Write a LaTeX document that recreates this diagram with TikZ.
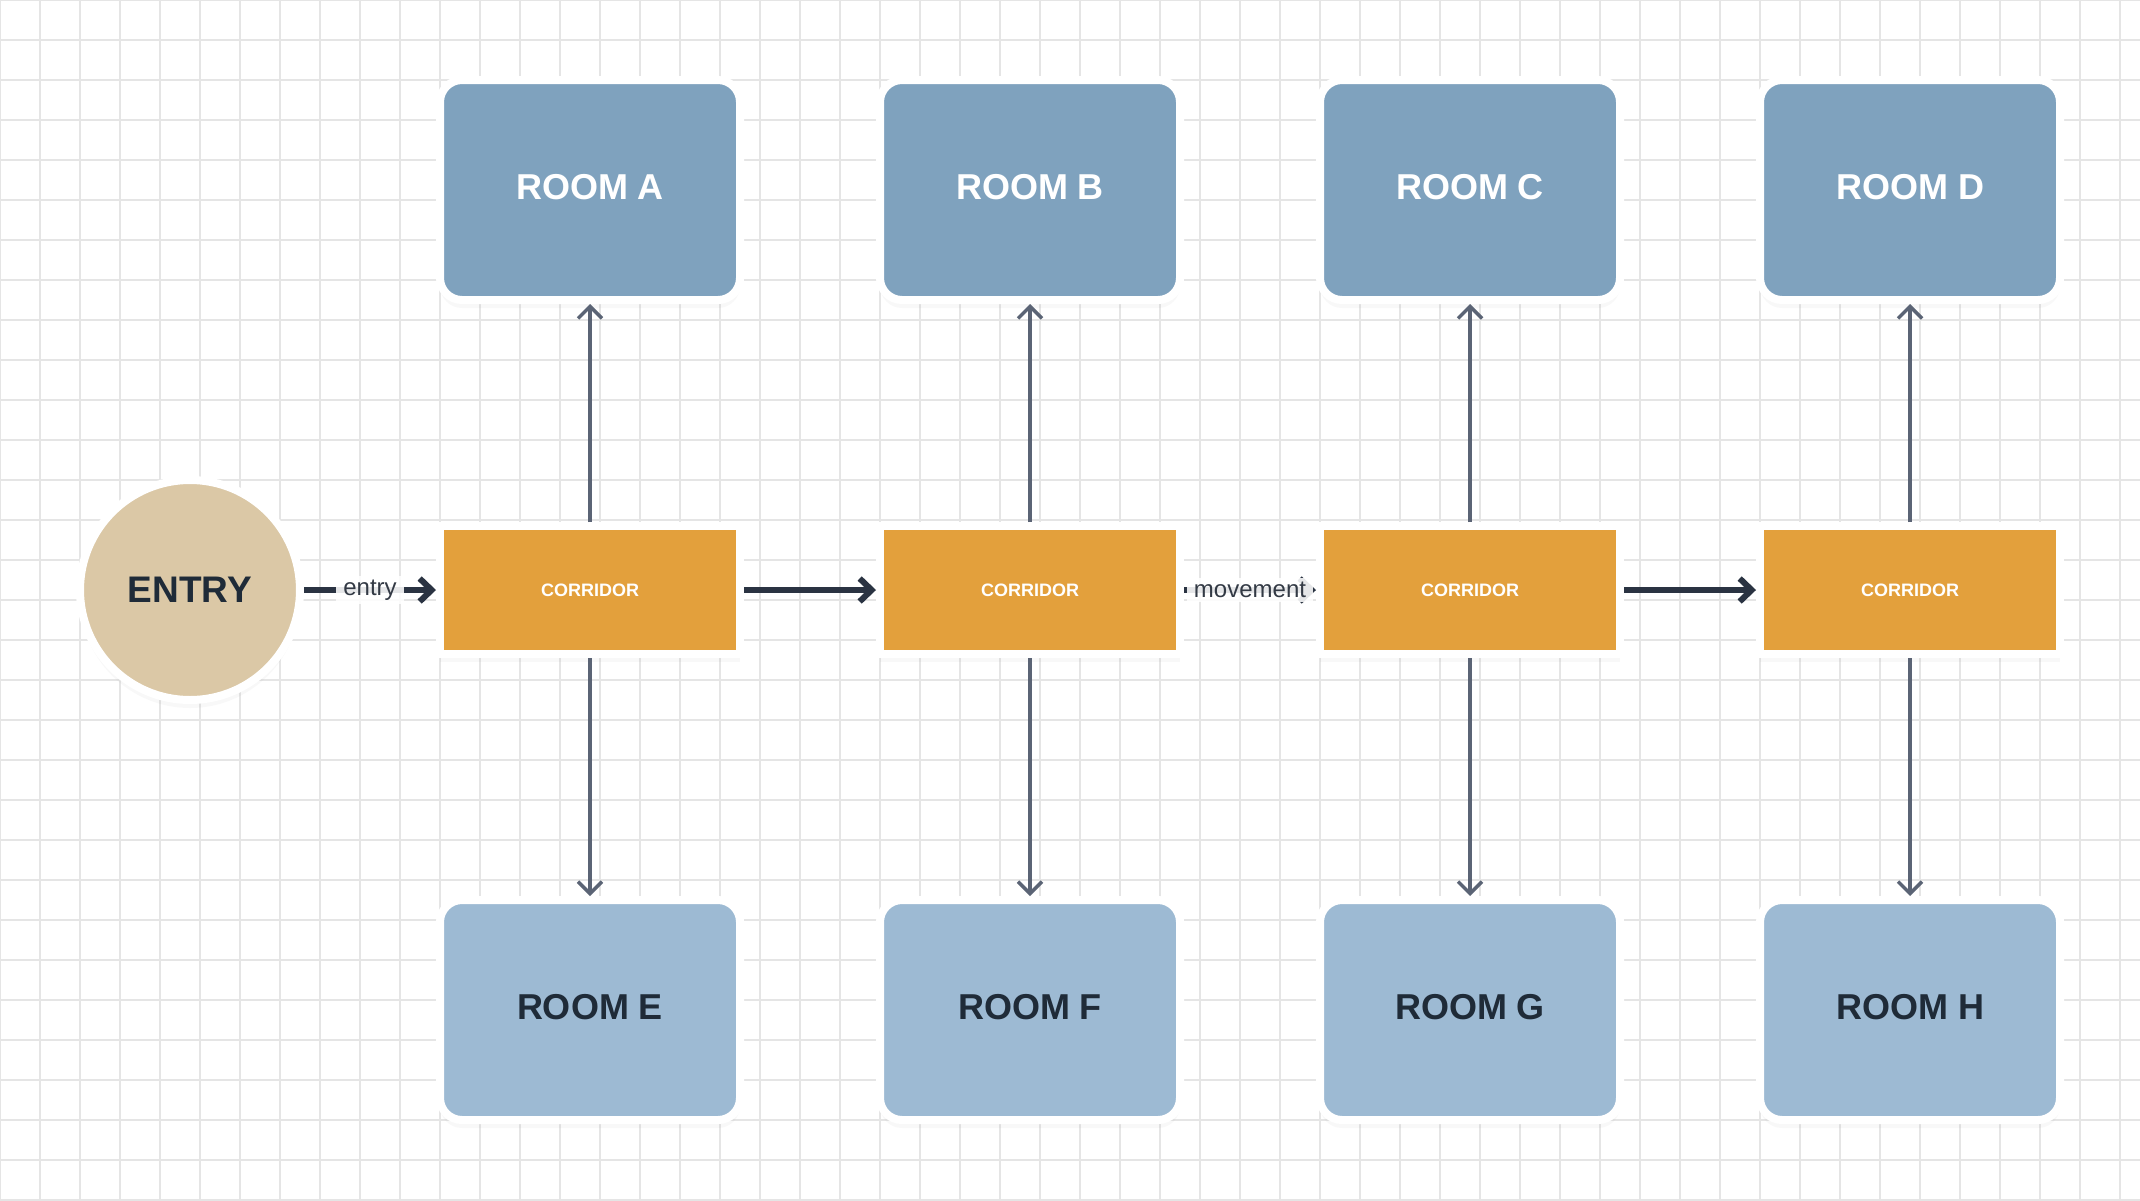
\documentclass[tikz,border=0pt]{standalone}
\usepackage{fontspec}
\setmainfont{Liberation Sans}
\usetikzlibrary{arrows.meta, shadows}

\definecolor{roomtop}{HTML}{7FA2BE}
\definecolor{roombot}{HTML}{9DBAD3}
\definecolor{corrfill}{HTML}{E3A03C}
\definecolor{entryfill}{HTML}{DBC8A6}
\definecolor{ink}{HTML}{1F2B38}
\definecolor{flow}{HTML}{2A3342}
\definecolor{link}{HTML}{5B6475}
\definecolor{gridc}{HTML}{E5E5E5}
\definecolor{lblc}{HTML}{333A45}

\begin{document}
\begin{tikzpicture}[x=1pt, y=-1pt,
  box/.style={draw=white, line width=8pt, minimum width=300pt, inner sep=0pt,
    drop shadow={shadow xshift=0pt, shadow yshift=-8pt, opacity=0.05}},
  roomup/.style={box, rounded corners=22pt, minimum height=220pt, fill=roomtop,
    text=white, text depth=6pt, font=\fontsize{36}{40}\selectfont\bfseries},
  roomdown/.style={roomup, fill=roombot, text=ink},
  corridor/.style={box, minimum height=128pt, fill=corrfill, text=white,
    font=\fontsize{18}{20}\selectfont\bfseries},
  entrynode/.style={circle, draw=white, line width=8pt, minimum size=220pt,
    inner sep=0pt, fill=entryfill, text=ink, font=\fontsize{37}{40}\selectfont\bfseries,
    drop shadow={shadow xshift=0pt, shadow yshift=-8pt, opacity=0.05}},
  flowarrow/.style={draw=flow, line width=6pt, -{Straight Barb[length=12pt, width=23pt]}},
  linkarrow/.style={draw=link, line width=3.5pt, -{Straight Barb[length=12pt, width=24pt]}},
  lbl/.style={fill=white, fill opacity=0.88, text opacity=1, text=lblc, inner xsep=7pt,
    inner ysep=4pt, font=\fontsize{24}{28}\selectfont}]

\useasboundingbox (0,0) rectangle (2140,1200);
\fill[white] (0,0) rectangle (2140,1200);
\draw[gridc, line width=1.5pt] (0,0) grid[step=40pt] (2140,1200);

\node[entrynode] (E) at (190,590) {ENTRY};

\node[roomup] (RA) at (590,190) {ROOM A};
\node[roomup] (RB) at (1030,190) {ROOM B};
\node[roomup] (RC) at (1470,190) {ROOM C};
\node[roomup] (RD) at (1910,190) {ROOM D};

\node[corridor] (C1) at (590,590) {CORRIDOR};
\node[corridor] (C2) at (1030,590) {CORRIDOR};
\node[corridor] (C3) at (1470,590) {CORRIDOR};
\node[corridor] (C4) at (1910,590) {CORRIDOR};

\node[roomdown] (RE) at (590,1010) {ROOM E};
\node[roomdown] (RF) at (1030,1010) {ROOM F};
\node[roomdown] (RG) at (1470,1010) {ROOM G};
\node[roomdown] (RH) at (1910,1010) {ROOM H};

\path[]
(E) edge[flowarrow] node[lbl]{entry} (C1)
(C1) edge[flowarrow] (C2)
(C2) edge[flowarrow] node[lbl]{movement} (C3)
(C3) edge[flowarrow] (C4)
(C1) edge[linkarrow] (RA)
(C2) edge[linkarrow] (RB)
(C3) edge[linkarrow] (RC)
(C4) edge[linkarrow] (RD)
(C1) edge[linkarrow] (RE)
(C2) edge[linkarrow] (RF)
(C3) edge[linkarrow] (RG)
(C4) edge[linkarrow] (RH)
;
\end{tikzpicture}
\end{document}
